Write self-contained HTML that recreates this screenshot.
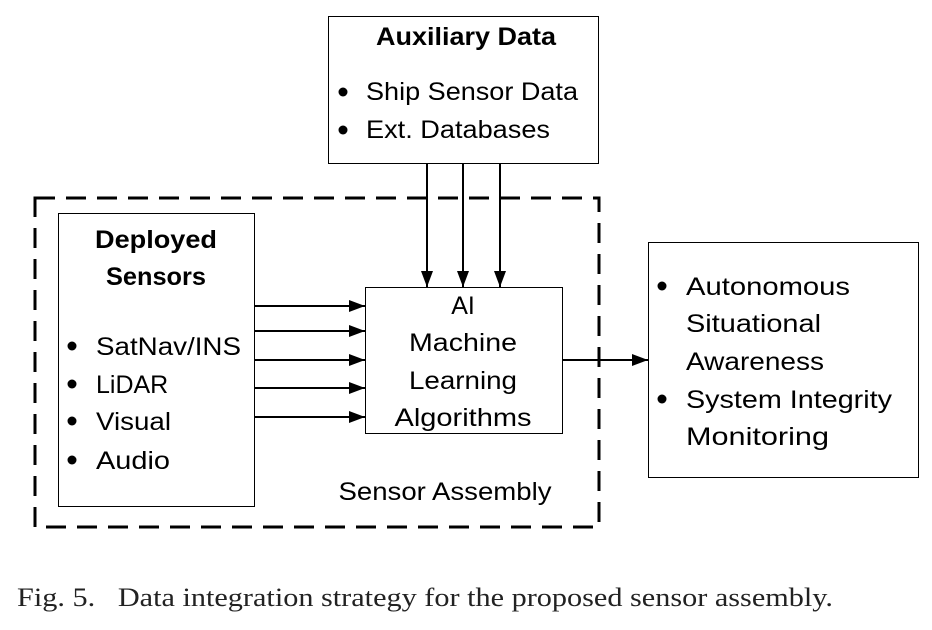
<!DOCTYPE html>
<html><head><meta charset="utf-8"><style>body{margin:0;background:#fff}svg{display:block}</style></head>
<body>
<svg width="932" height="630" viewBox="0 0 932 630" xmlns="http://www.w3.org/2000/svg">
<defs><marker id="a" markerWidth="16" markerHeight="12" refX="16" refY="6" orient="auto" markerUnits="userSpaceOnUse"><path d="M0,0 L16,6 L0,12 z" fill="#000"/></marker></defs>
<g fill="none" stroke="#000">
<rect x="328.5" y="16.5" width="270" height="147" stroke-width="1"/>
<rect x="35" y="198" width="564" height="329" stroke-width="3" stroke-dasharray="20,11"/>
<rect x="58.5" y="213.5" width="196" height="293" stroke-width="1"/>
<rect x="365.5" y="287.5" width="197" height="146" stroke-width="1"/>
<rect x="648.5" y="242.5" width="270" height="235" stroke-width="1"/>
<g stroke-width="2" marker-end="url(#a)">
<line x1="427" y1="163" x2="427" y2="287"/>
<line x1="463" y1="163" x2="463" y2="287"/>
<line x1="500" y1="163" x2="500" y2="287"/>
<line x1="254" y1="306" x2="365" y2="306"/>
<line x1="254" y1="331" x2="365" y2="331"/>
<line x1="254" y1="360" x2="365" y2="360"/>
<line x1="254" y1="388" x2="365" y2="388"/>
<line x1="254" y1="417" x2="365" y2="417"/>
<line x1="562" y1="360" x2="648" y2="360"/>
</g></g>
<g font-family="Liberation Sans, sans-serif" font-size="25" fill="#000">
<text x="466" y="45" text-anchor="middle" font-weight="bold" textLength="180" lengthAdjust="spacingAndGlyphs">Auxiliary Data</text>
<text x="366" y="100" textLength="212" lengthAdjust="spacingAndGlyphs">Ship Sensor Data</text>
<text x="366" y="138" textLength="184" lengthAdjust="spacingAndGlyphs">Ext. Databases</text>
<circle cx="343" cy="92" r="4.5"/><circle cx="343" cy="130" r="4.5"/>
<text x="156" y="248" text-anchor="middle" font-weight="bold" textLength="122" lengthAdjust="spacingAndGlyphs">Deployed</text>
<text x="156" y="285" text-anchor="middle" font-weight="bold" textLength="100" lengthAdjust="spacingAndGlyphs">Sensors</text>
<circle cx="72" cy="346" r="4.5"/><circle cx="72" cy="384" r="4.5"/><circle cx="72" cy="421" r="4.5"/><circle cx="72" cy="460" r="4.5"/>
<text x="96" y="355" textLength="145" lengthAdjust="spacingAndGlyphs">SatNav/INS</text>
<text x="96" y="393">LiDAR</text>
<text x="96" y="430" textLength="75" lengthAdjust="spacingAndGlyphs">Visual</text>
<text x="96" y="469" textLength="74" lengthAdjust="spacingAndGlyphs">Audio</text>
<text x="463" y="314" text-anchor="middle">AI</text>
<text x="463" y="351" text-anchor="middle" textLength="108" lengthAdjust="spacingAndGlyphs">Machine</text>
<text x="463" y="389" text-anchor="middle" textLength="108" lengthAdjust="spacingAndGlyphs">Learning</text>
<text x="463" y="426" text-anchor="middle" textLength="137" lengthAdjust="spacingAndGlyphs">Algorithms</text>
<text x="445" y="500" text-anchor="middle" textLength="213" lengthAdjust="spacingAndGlyphs">Sensor Assembly</text>
<circle cx="662" cy="286" r="4.5"/><circle cx="662" cy="399" r="4.5"/>
<text x="686" y="295" textLength="164" lengthAdjust="spacingAndGlyphs">Autonomous</text>
<text x="686" y="332" textLength="135" lengthAdjust="spacingAndGlyphs">Situational</text>
<text x="686" y="370" textLength="138" lengthAdjust="spacingAndGlyphs">Awareness</text>
<text x="686" y="408" textLength="206" lengthAdjust="spacingAndGlyphs">System Integrity</text>
<text x="686" y="445" textLength="143" lengthAdjust="spacingAndGlyphs">Monitoring</text>
</g>
<text x="17" y="606" font-family="Liberation Serif, serif" font-size="26" fill="#222" textLength="816" lengthAdjust="spacingAndGlyphs">Fig. 5.&#160;&#160;&#160;Data integration strategy for the proposed sensor assembly.</text>
</svg>
</body></html>
